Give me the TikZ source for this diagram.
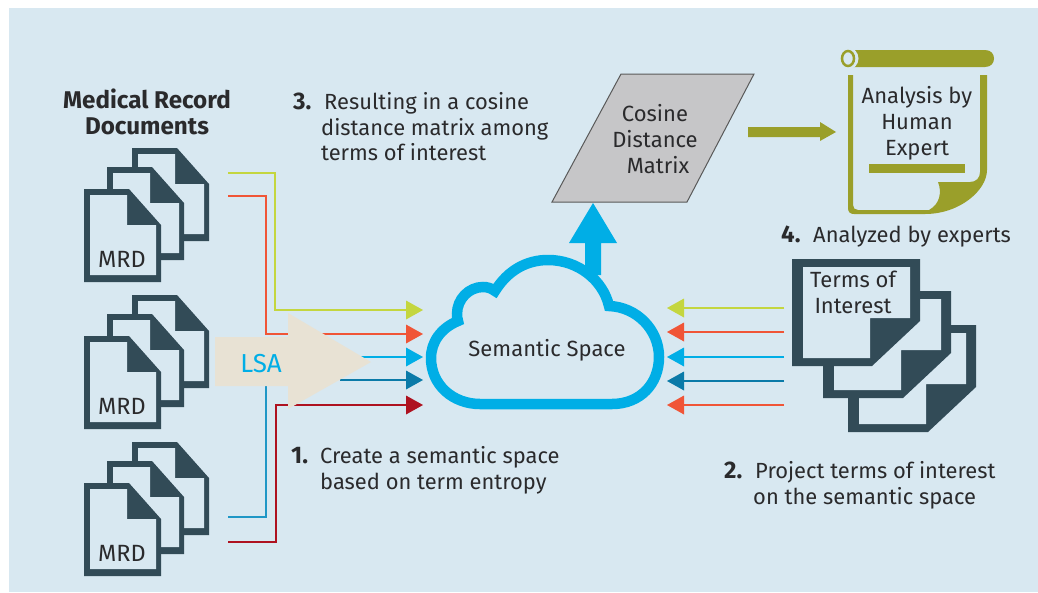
\documentclass[tikz,border=0pt]{standalone}
\usepackage{fontspec}
\setmainfont{Fira Sans}
\definecolor{bgc}{HTML}{D8E8F1}
\definecolor{docc}{HTML}{324B57}
\definecolor{olive}{HTML}{9A9F2A}
\definecolor{sky}{HTML}{00AEE6}
\definecolor{lime}{HTML}{C4D63F}
\definecolor{tomato}{HTML}{F05537}
\definecolor{deepblue}{HTML}{0A7AA8}
\definecolor{midblue}{HTML}{1F97C6}
\definecolor{wine}{HTML}{AE1220}
\definecolor{sand}{HTML}{E8E2D4}
\definecolor{ink}{HTML}{2A2A2C}
\definecolor{slab}{HTML}{C6C6C8}
\tikzset{
  x=1pt,y=-1pt,
  txt/.style={inner sep=0pt,text=ink,font=\fontsize{21.9}{26}\selectfont,anchor=base west},
  ctxt/.style={inner sep=0pt,text=ink,font=\fontsize{22}{25.7}\selectfont,anchor=base,align=center},
  num/.style={inner sep=0pt,text=ink,font=\fontsize{24}{26}\selectfont\bfseries,anchor=base west},
  wire/.style={line width=1.5pt,line join=miter},
  tipR/.pic={\fill[pic actions] (-17,-9.5) -- (0,0) -- (-17,9.5) -- cycle;},
  tipL/.pic={\fill[pic actions] (17,-9.5) -- (0,0) -- (17,9.5) -- cycle;},
}
% MRD document: #1 x, #2 y of top-left outer corner
\newcommand{\mrddoc}[2]{%
  \begin{scope}[shift={(#1,#2)}]
    \fill[docc] (0,0) -- (45,0) -- (77,36) -- (77,93) -- (0,93) -- cycle;
    \fill[bgc] (6,6) -- (43,6) -- (43,36) -- (72,36) -- (72,86) -- (6,86) -- cycle;
  \end{scope}}
\newcommand{\mrdstack}[1]{%
  \mrddoc{132}{#1+148}\mrddoc{107}{#1+167}\mrddoc{84}{#1+189}}
% terms document
\newcommand{\termdoc}[2]{%
  \begin{scope}[shift={(#1,#2)}]
    \fill[docc] (0,0) -- (128,0) -- (128,62) -- (80,107) -- (0,107) -- cycle;
    \fill[bgc] (11,8) -- (118,8) -- (118,59) -- (78,59) -- (78,99) -- (11,99) -- cycle;
  \end{scope}}
\begin{document}
\begin{tikzpicture}
\useasboundingbox (0,0) rectangle (1038,592);
\fill[white] (0,0) rectangle (1038,592);
\fill[bgc] (9,8) rectangle (1038,592);

% document stacks
\mrdstack{0}\mrdstack{147}\mrdstack{294}
\node[ctxt,font=\fontsize{23.5}{26}\selectfont] (mrdA) at (122,267) {MRD};
\node[ctxt,font=\fontsize{23.5}{26}\selectfont] (mrdB) at (122,414) {MRD};
\node[ctxt,font=\fontsize{23.5}{26}\selectfont] (mrdC) at (122,561) {MRD};
\node[ctxt,font=\fontsize{24.2}{26}\selectfont\bfseries] (title) at (147,134) {Medical Record\\Documents};

% connector ends
\coordinate (a1) at (228,173);
\coordinate (a2) at (228,196);
\coordinate (c1) at (228,517);
\coordinate (c2) at (228,542);
\coordinate (t1) at (407,310);
\coordinate (t2) at (407,334);
\coordinate (t3) at (407,357);
\coordinate (t4) at (407,380);
\coordinate (t5) at (407,405);
\coordinate (h3) at (340,357);
\coordinate (h4) at (340,380);
\coordinate (h5) at (266,380);

\draw[wire,lime] (a1) -| (275,310) -- (t1);
\draw[wire,tomato] (a2) -| (266,334) -- (t2);
\draw[wire,sky] (h3) -- (t3);
\draw[wire,deepblue] (h4) -- (t4);
\draw[wire,midblue] (c1) -| (h5);
\draw[wire,wine] (c2) -| (276,405) -- (t5);
\pic[lime] at (423,310) {tipR};
\pic[tomato] at (423,334) {tipR};
\pic[sky] at (423,357) {tipR};
\pic[deepblue] at (423,380) {tipR};
\pic[wine] at (423,405) {tipR};

% LSA arrow
\fill[sand] (215,337) -- (288,337) -- (288,313) -- (371,362) -- (288,409) -- (288,386) -- (215,386) -- cycle;
\node[ctxt,text=sky,font=\fontsize{26}{26}\selectfont] (lsa) at (261,372) {LSA};

% up arrow and cloud
\fill[sky] (585,275) -- (585,243) -- (569,243) -- (593,203) -- (617,243) -- (601,243) -- (601,275) -- cycle;
\draw[sky,line width=10.5pt,fill=bgc,line join=miter,miter limit=3]
  (480,404) -- (612,404)
  .. controls (640,404) and (659,384) .. (659,357)
  .. controls (659,330) and (637,307) .. (609,306)
  .. controls (603,280) and (578,260) .. (548,260)
  .. controls (527,260) and (508,270) .. (495,291)
  .. controls (491,288) and (487,287) .. (483,287)
  .. controls (469,287) and (457,299) .. (457,314)
  .. controls (457,316) and (457,318) .. (458,321)
  .. controls (441,328) and (431,342) .. (431,358)
  .. controls (431,385) and (453,404) .. (480,404) -- cycle;
\node[ctxt] (space) at (547,356) {Semantic Space};

% cosine matrix
\draw[fill=slab,draw=black!65,line width=1pt] (621,74) -- (754,74) -- (687,202) -- (552,202) -- cycle;
\node[ctxt] (cosine) at (655,173) {Cosine\\Distance\\\hspace{6pt}Matrix};

% olive arrow
\fill[olive] (748,127) -- (820,127) -- (820,122) -- (836,132) -- (820,141) -- (820,137) -- (748,137) -- cycle;

% scroll
\fill[olive] (850,50) -- (985,50) .. controls (991,50) and (994,54) .. (994,58.5) .. controls (994,63) and (991,67) .. (985,67) -- (850,67) -- cycle;
\fill[bgc] (848,58.5) ellipse (10.5 and 11);
\draw[olive,line width=2.5pt,fill=bgc] (848,58.5) ellipse (6 and 7.5);
\fill[olive,even odd rule] (848,75) -- (848,208) .. controls (848,212) and (850,214) .. (854,214) -- (925,214)
  .. controls (960,214) and (987,190) .. (987,170) -- (987,75) -- (980,75) -- (980,172)
  .. controls (980,178) and (976,182) .. (970,182) -- (938,182)
  .. controls (942,192) and (940,204) .. (929,210) -- (858,210)
  .. controls (855,210) and (853,208) .. (853,205) -- (853,75) -- cycle;
\fill[olive] (869,164) rectangle (965,173);
\node[ctxt] (expert) at (917,155) {Analysis by\\Human\\Expert};

% terms stack
\termdoc{848}{325}\termdoc{823}{291}\termdoc{792}{259}
\node[ctxt] (terms) at (853,313) {Terms of\\Interest};

% right arrows
\coordinate (r1) at (784,308);
\coordinate (r2) at (784,332);
\coordinate (r3) at (784,357);
\coordinate (r4) at (784,381);
\coordinate (r5) at (784,405);
\coordinate (s1) at (684,308);
\coordinate (s2) at (684,332);
\coordinate (s3) at (684,357);
\coordinate (s4) at (684,381);
\coordinate (s5) at (684,405);
\draw[wire,lime] (r1) -- (s1);
\draw[wire,tomato] (r2) -- (s2);
\draw[wire,sky] (r3) -- (s3);
\draw[wire,deepblue] (r4) -- (s4);
\draw[wire,tomato] (r5) -- (s5);
\pic[lime] at (667,308) {tipL};
\pic[tomato] at (667,332) {tipL};
\pic[sky] at (667,357) {tipL};
\pic[deepblue] at (667,381) {tipL};
\pic[tomato] at (667,405) {tipL};

% captions
\node[num] (n3) at (293,109) {3.};
\node[txt] (l3a) at (324,109) {Resulting in a cosine};
\node[txt] (l3b) at (321,135) {distance matrix among};
\node[txt] (l3c) at (321,160) {terms of interest};
\node[num] (n1) at (291,463) {1.};
\node[txt] (l1a) at (320,463) {Create a semantic space};
\node[txt] (l1b) at (320,489) {based on term entropy};
\node[num] (n2) at (724,478) {2.};
\node[txt] (l2a) at (755,478) {Project terms of interest};
\node[txt] (l2b) at (753,504) {on the semantic space};
\node[num] (n4) at (781,242) {4.};
\node[txt] (l4) at (813,242) {Analyzed by experts};
\end{tikzpicture}
\end{document}
